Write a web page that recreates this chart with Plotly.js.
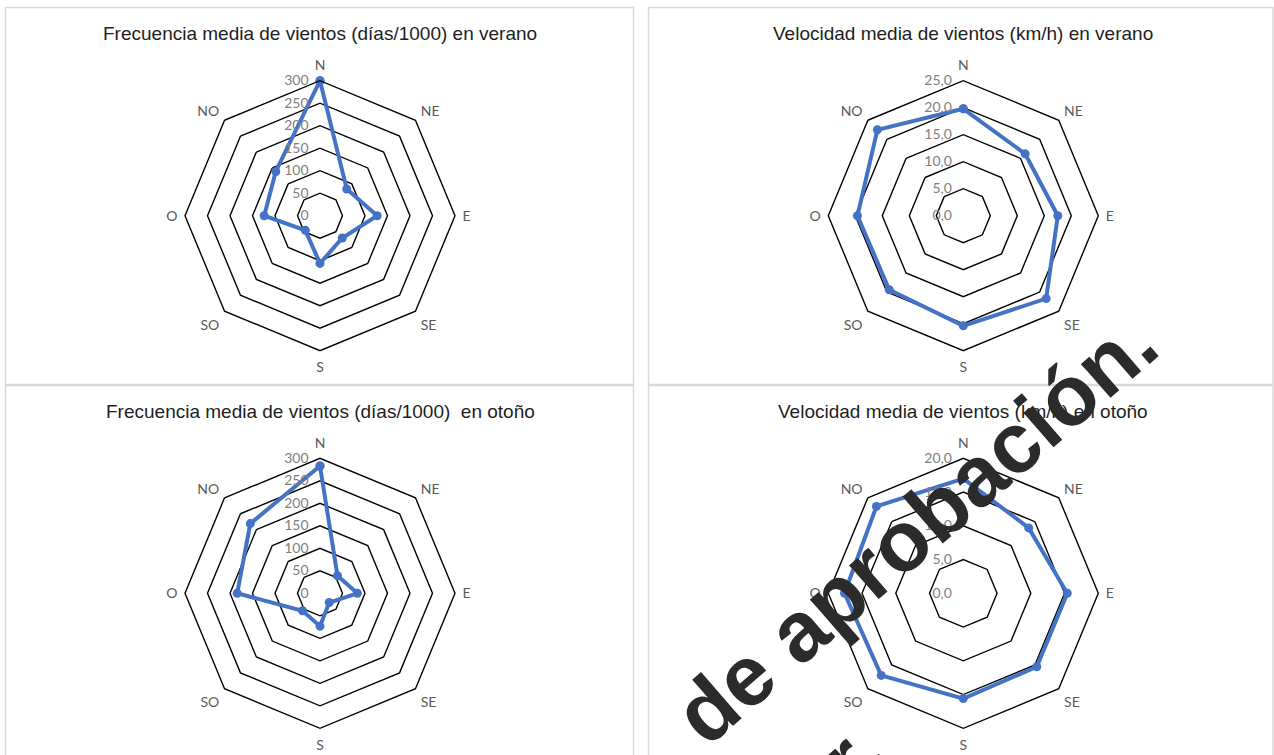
<!DOCTYPE html>
<html>
<head>
<meta charset="utf-8">
<script src="https://cdn.plot.ly/plotly-3.0.1.min.js"></script>
<style>
  html, body { margin: 0; padding: 0; background: #ffffff; }
  #chart { width: 1274px; height: 755px; }
</style>
</head>
<body>
<div id="chart"></div>
<script>
// Wind directions (clockwise from north)
const directions = ["N", "NE", "E", "SE", "S", "SO", "O", "NO"];

// Mean wind frequency (days/1000) and mean wind speed (km/h)
const freqSummer = [300, 84, 127, 70, 106, 46, 124, 139];
const speedSummer = [19.8, 16.2, 17.5, 21.7, 20.4, 19.4, 19.6, 22.5];
const freqAutumn = [283, 55, 83, 29, 73, 55, 184, 219];
const speedAutumn = [17.0, 13.7, 15.4, 15.4, 15.6, 17.2, 17.6, 18.2];

const titles = [
  "Frecuencia media de vientos (días/1000) en verano",
  "Velocidad media de vientos (km/h) en verano",
  "Frecuencia media de vientos (días/1000)\u00a0 en otoño",
  "Velocidad media de vientos (km/h) en otoño"
];

const W = 1274, H = 755;
const px = v => v / W;
const py = v => 1 - v / H;

// Chart centres and radius in pixels
const R = 135;
const centres = [[320, 215.7], [963.3, 215.7], [320, 593.3], [963.3, 593.3]];
const series = [freqSummer, speedSummer, freqAutumn, speedAutumn];
const ranges = [[0, 300], [0, 25], [0, 300], [0, 20]];
const dticks = [50, 5, 50, 5];
const fmts = ["d", ".1f", "d", ".1f"];

const lineColor = "#4472c4";
const traces = [];
const layout = {
  width: W, height: H,
  margin: {l: 0, r: 0, t: 0, b: 0},
  paper_bgcolor: "#ffffff",
  showlegend: false,
  separators: ",.",
  annotations: [],
  shapes: []
};

series.forEach((vals, i) => {
  const name = i === 0 ? "polar" : "polar" + (i + 1);
  traces.push({
    type: "scatterpolar",
    r: vals.concat([vals[0]]),
    theta: directions.concat([directions[0]]),
    mode: "lines+markers",
    line: {color: lineColor, width: 4},
    marker: {color: lineColor, size: 9},
    subplot: name,
    hoverinfo: "skip"
  });
  const [cx, cy] = centres[i];
  layout[name] = {
    domain: {x: [px(cx - R), px(cx + R)], y: [py(cy + R), py(cy - R)]},
    gridshape: "linear",
    bgcolor: "rgba(0,0,0,0)",
    radialaxis: {
      range: ranges[i],
      dtick: dticks[i],
      tickformat: fmts[i],
      tickangle: 90,
      angle: 90,
      side: "counterclockwise",
      showline: false,
      ticks: "outside",
      ticklen: 6,
      tickcolor: "rgba(0,0,0,0)",
      showgrid: true,
      gridcolor: "#000000",
      gridwidth: 1.4,
      tickfont: {family: "Lato, 'Open Sans', sans-serif", size: 14, color: "#808080"}
    },
    angularaxis: {
      direction: "clockwise",
      rotation: 90,
      showgrid: false,
      showline: true,
      linecolor: "#000000",
      linewidth: 1.4,
      ticks: "outside",
      ticklen: 4,
      tickcolor: "rgba(0,0,0,0)",
      tickfont: {family: "Lato, 'Open Sans', sans-serif", size: 14, color: "#595959"}
    }
  };
  layout.annotations.push({
    xref: "paper", yref: "paper",
    x: px(cx), y: py(i < 2 ? 33 : 411),
    text: titles[i],
    showarrow: false,
    xanchor: "center", yanchor: "middle",
    font: {family: "'Liberation Sans', Arial, sans-serif", size: 19, color: "#1e1e1e"}
  });
});

// Panel frames
const frameColor = "#d9d9d9";
[[5.5, 7.5, 633.5, 384.5], [648.5, 7.5, 1273, 384.5],
 [5.5, 385.5, 633.5, 760], [648.5, 385.5, 1273, 760]].forEach(([x0, y0, x1, y1]) => {
  layout.shapes.push({
    type: "rect", xref: "paper", yref: "paper",
    x0: px(x0), x1: px(x1), y0: py(y1), y1: py(y0),
    line: {color: frameColor, width: 1.5}, fillcolor: "rgba(0,0,0,0)", layer: "below"
  });
});

// Diagonal watermark (two lines, partly beyond the bottom edge)
const wmFont = {family: "'Liberation Sans', Arial, sans-serif", size: 85, color: "#2b2b2b"};
layout.annotations.push({
  xref: "paper", yref: "paper",
  x: px(915), y: py(528),
  text: "<b>de aprobación.</b>",
  showarrow: false,
  textangle: -41,
  xanchor: "center", yanchor: "middle",
  font: wmFont
});
layout.annotations.push({
  xref: "paper", yref: "paper",
  x: px(852), y: py(754),
  text: "<b>r.</b>",
  showarrow: false,
  textangle: -41,
  xanchor: "center", yanchor: "middle",
  font: wmFont
});

Plotly.newPlot("chart", traces, layout, {displayModeBar: false, staticPlot: true});
</script>
</body>
</html>
